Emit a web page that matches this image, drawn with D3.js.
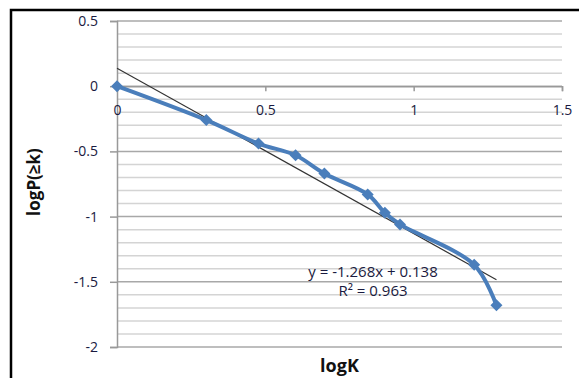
<!DOCTYPE html>
<html>
<head>
<meta charset="utf-8">
<script src="https://cdn.jsdelivr.net/npm/d3@7"></script>
<style>
  html, body { margin: 0; padding: 0; background: #fff; }
  svg { display: block; }
</style>
</head>
<body>
<div id="chart"></div>
<script>
// data
const logK = [0, 0.301, 0.477, 0.602, 0.699, 0.845, 0.903, 0.954, 1.204, 1.279];
const logP = [0, -0.26, -0.44, -0.53, -0.67, -0.83, -0.97, -1.06, -1.37, -1.68];
const xTicks = [0, 0.5, 1, 1.5];
const yTicks = [0.5, 0, -0.5, -1, -1.5, -2];
const trend = { slope: -1.268, intercept: 0.138, r2: 0.963 };

const W = 579, H = 378;
const FONT = "'Open Sans', 'Liberation Sans', sans-serif";
const BLUE = '#4a7ebb';
const TXT = '#1a1a40';
const fmt = d => String(d); // plain hyphen minus, like Excel

const svg = d3.select('#chart').append('svg')
  .attr('width', W).attr('height', H);

// outer chart frame (only left and top visible)
svg.append('path')
  .attr('d', `M11,${H} L11,10 L${W},10`)
  .attr('fill', 'none')
  .attr('stroke', '#000')
  .attr('stroke-width', 2.5);

const x = d3.scaleLinear().domain([0, 1.5]).range([117, 562]);
const y = d3.scaleLinear().domain([-2, 0.5]).range([347, 21]);

// gridlines every 0.1, darker at 0.5
const grid = d3.range(-20, 6).map(i => i / 10);
svg.append('g').selectAll('line')
  .data(grid)
  .join('line')
  .attr('x1', x(0)).attr('x2', x(1.5))
  .attr('y1', d => y(d)).attr('y2', d => y(d))
  .attr('stroke', d => Math.abs(d * 2 - Math.round(d * 2)) < 1e-6 ? '#a8a8a8' : '#d4d4d4')
  .attr('stroke-width', 1.5);

// y axis
const yAxis = svg.append('g')
  .attr('transform', `translate(${x(0)},0)`)
  .call(d3.axisLeft(y).tickValues(yTicks).tickSize(7).tickPadding(12).tickFormat(fmt));
yAxis.select('.domain').attr('stroke', '#999').attr('stroke-width', 1.5);
yAxis.selectAll('line').attr('stroke', '#999').attr('stroke-width', 1.5);
yAxis.selectAll('text')
  .style('font-family', FONT).style('font-size', '14px').attr('fill', TXT);

// x axis at y = 0
const xAxis = svg.append('g')
  .attr('transform', `translate(0,${y(0)})`)
  .call(d3.axisBottom(x).tickValues(xTicks).tickSize(5).tickPadding(14).tickFormat(fmt));
xAxis.select('.domain').attr('stroke', '#999').attr('stroke-width', 1.5);
xAxis.selectAll('line').attr('stroke', '#999').attr('stroke-width', 1.5);
xAxis.selectAll('text')
  .style('font-family', FONT).style('font-size', '14px').attr('fill', TXT);

// linear trend line
const tx = d3.extent(logK);
svg.append('line')
  .attr('x1', x(tx[0])).attr('y1', y(trend.slope * tx[0] + trend.intercept))
  .attr('x2', x(tx[1])).attr('y2', y(trend.slope * tx[1] + trend.intercept))
  .attr('stroke', '#333')
  .attr('stroke-width', 1.2);

// data series, smoothed
const pts = logK.map((k, i) => [k, logP[i]]);
svg.append('path')
  .datum(pts)
  .attr('fill', 'none')
  .attr('stroke', BLUE)
  .attr('stroke-width', 4)
  .attr('stroke-linejoin', 'round')
  .attr('d', d3.line().x(d => x(d[0])).y(d => y(d[1])).curve(d3.curveCatmullRom.alpha(0.5)));

svg.append('g').selectAll('path')
  .data(pts)
  .join('path')
  .attr('transform', d => `translate(${x(d[0])},${y(d[1])})`)
  .attr('d', 'M0,-6 L6,0 L0,6 L-6,0 Z')
  .attr('fill', BLUE);

// trendline label
const lbl = svg.append('g')
  .style('font-family', FONT).style('font-size', '15px').attr('fill', TXT)
  .attr('text-anchor', 'middle');
lbl.append('text').attr('x', 373).attr('y', 277)
  .text(`y = ${trend.slope}x + ${trend.intercept}`);
lbl.append('text').attr('x', 373).attr('y', 296)
  .text(`R² = ${trend.r2}`);

// axis titles
svg.append('text')
  .attr('x', x(0.75)).attr('y', 372)
  .attr('text-anchor', 'middle')
  .style('font-family', FONT).style('font-size', '18px').style('font-weight', 'bold')
  .attr('fill', '#111')
  .text('logK');

svg.append('text')
  .attr('transform', `translate(40,182) rotate(-90)`)
  .attr('text-anchor', 'middle')
  .style('font-family', FONT).style('font-size', '17px').style('font-weight', 'bold')
  .attr('fill', '#111')
  .text('logP(≥k)');
</script>
</body>
</html>
